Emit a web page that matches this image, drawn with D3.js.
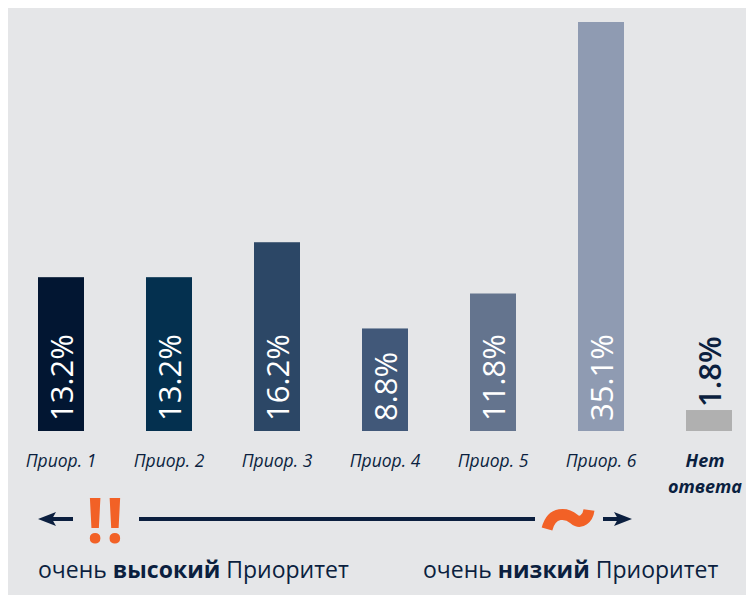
<!DOCTYPE html>
<html>
<head>
<meta charset="utf-8">
<script src="https://cdn.jsdelivr.net/npm/d3@7"></script>
<style>
  body { margin: 0; background: #fff; }
  svg { display: block; font-family: "Open Sans", sans-serif; }
</style>
</head>
<body>
<svg id="vis" width="746" height="595"></svg>
<script>
// data
var categories = ['Приор. 1', 'Приор. 2', 'Приор. 3', 'Приор. 4', 'Приор. 5', 'Приор. 6', 'Нет ответа'];
var values = [13.2, 13.2, 16.2, 8.8, 11.8, 35.1, 1.8];
var barColors = ['#021632', '#04304f', '#2c4766', '#415879', '#64748e', '#8f9bb2', '#b0b0b0'];

var navy = '#0b1f3f';
var orange = '#f26126';

var svg = d3.select('#vis');

// grey panel
svg.append('rect')
    .attr('x', 8).attr('y', 8)
    .attr('width', 746).attr('height', 595)
    .attr('fill', '#e5e6e8');

var x = d3.scaleBand()
    .domain(categories)
    .range([7, 763])
    .paddingInner(62 / 108)
    .paddingOuter(31 / 108);

var y = d3.scaleLinear()
    .domain([0, 35.1])
    .range([431, 22]);

var bars = svg.selectAll('.bar')
    .data(values)
    .enter();

bars.append('rect')
    .attr('x', function(d, i) { return x(categories[i]); })
    .attr('y', function(d) { return y(d); })
    .attr('width', x.bandwidth())
    .attr('height', function(d) { return y(0) - y(d); })
    .attr('fill', function(d, i) { return barColors[i]; });

// rotated value labels (inside bar, except the tiny last one)
bars.append('text')
    .attr('transform', function(d, i) {
        var cx = x(categories[i]) + x.bandwidth() / 2 + 12;
        var last = i === values.length - 1;
        var cy = last ? y(d) - 3 : y(0) - 10;
        return 'translate(' + cx + ',' + cy + ') rotate(-90)';
    })
    .attr('font-size', 31)
    .attr('font-weight', function(d, i) { return i === values.length - 1 ? 600 : 400; })
    .attr('fill', function(d, i) { return i === values.length - 1 ? navy : '#fff'; })
    .text(function(d) { return d.toFixed(1) + '%'; });

// category labels
categories.forEach(function(c, i) {
    var cx = x(c) + x.bandwidth() / 2;
    if (i < categories.length - 1) {
        svg.append('text')
            .attr('x', cx).attr('y', 467)
            .attr('text-anchor', 'middle')
            .attr('font-style', 'italic')
            .attr('font-size', 17.5)
            .attr('fill', navy)
            .text(c);
    } else {
        // two lines, nudged left so the second line fits the frame
        var parts = c.split(' ');
        parts.forEach(function(p, j) {
            svg.append('text')
                .attr('x', cx - 4).attr('y', 467 + j * 26)
                .attr('text-anchor', 'middle')
                .attr('font-style', 'italic')
                .attr('font-weight', 'bold')
                .attr('font-size', 18)
                .attr('fill', navy)
                .text(p);
        });
    }
});

// priority axis: arrows, "!!" and "~"
var ay = 519;
svg.append('path')
    .attr('d', 'M38,' + ay + ' L56,' + (ay - 7) + ' L52,' + ay + ' L56,' + (ay + 7) + ' Z')
    .attr('fill', navy);
svg.append('line')
    .attr('x1', 50).attr('x2', 73).attr('y1', ay).attr('y2', ay)
    .attr('stroke', navy).attr('stroke-width', 4);

svg.append('line')
    .attr('x1', 139).attr('x2', 535).attr('y1', ay).attr('y2', ay)
    .attr('stroke', navy).attr('stroke-width', 4);

svg.append('line')
    .attr('x1', 603).attr('x2', 620).attr('y1', ay).attr('y2', ay)
    .attr('stroke', navy).attr('stroke-width', 4);
svg.append('path')
    .attr('d', 'M632,' + ay + ' L614,' + (ay - 7) + ' L618,' + ay + ' L614,' + (ay + 7) + ' Z')
    .attr('fill', navy);

svg.append('text')
    .attr('x', 106).attr('y', 543)
    .attr('text-anchor', 'middle')
    .attr('font-size', 62)
    .attr('font-weight', 'bold')
    .attr('letter-spacing', 2)
    .attr('fill', orange)
    .text('!!');

// tilde drawn as a thick wave
svg.append('path')
    .attr('d', 'M547,529 C552,510 567,513 574,519 C581,525 588,518 589,510')
    .attr('fill', 'none')
    .attr('stroke', orange)
    .attr('stroke-width', 11);

// end labels
var lowHigh = [
    {x: 38, pre: 'очень ', bold: 'высокий', post: ' Приоритет'},
    {x: 423, pre: 'очень ', bold: 'низкий', post: ' Приоритет'}
];
lowHigh.forEach(function(d) {
    var t = svg.append('text')
        .attr('x', d.x).attr('y', 578)
        .attr('font-size', 23)
        .attr('fill', navy);
    t.append('tspan').text(d.pre);
    t.append('tspan').attr('font-weight', 'bold').text(d.bold);
    t.append('tspan').text(d.post);
});
</script>
</body>
</html>
